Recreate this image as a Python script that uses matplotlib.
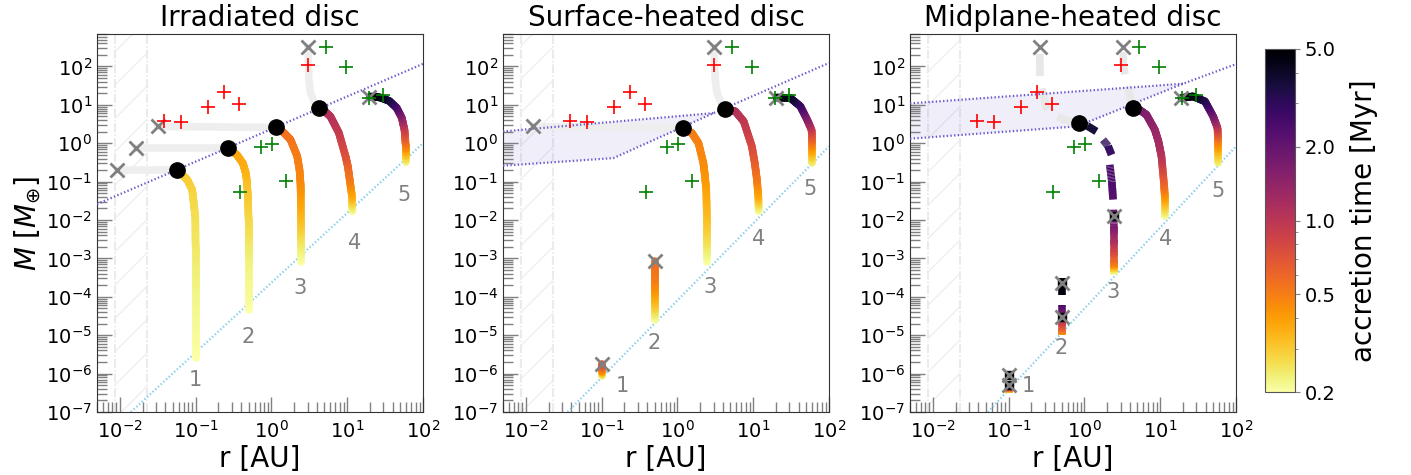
import numpy as np
import matplotlib
matplotlib.use('Agg')
import matplotlib.pyplot as plt
from matplotlib.collections import LineCollection
from matplotlib.colors import LogNorm

plt.rcParams['lines.scale_dashes'] = False

titles = ['Irradiated disc', 'Surface-heated disc', 'Midplane-heated disc']
nan = np.nan

# observed planets, the same in every panel
red_r = [0.038, 0.065, 0.145, 0.236, 0.372, 3.03]
red_m = [3.7, 3.5, 8.8, 21, 10.7, 111]
green_r = [5.2, 9.7, 19.3, 29.9, 0.72, 1.03, 0.38, 1.54]
green_m = [320, 94, 15, 17.6, 0.8, 0.95, 0.054, 0.107]

# ---- irradiated disc: tracks (r [AU], M [Mearth], time [Myr])
irr_track_r = [[0.1, 0.1, 0.1, 0.099, 0.094, 0.09, 0.078, 0.067, 0.056],
               [0.5, 0.5, 0.5, 0.49, 0.475, 0.46, 0.42, 0.35, 0.265],
               [2.45, 2.45, 2.45, 2.44, 2.42, 2.35, 2.19, 1.79, 1.45, 1.16],
               [11.7, 11.6, 10.8, 10.2, 9.5, 7.76, 6.0, 5.0, 4.25],
               [59, 59, 57, 52.5, 45, 36, 27.5, 20]]
irr_track_m = [[2.5e-6, 1e-4, 2e-3, 0.012, 0.03, 0.062, 0.11, 0.15, 0.2],
               [4.6e-5, 1e-3, 0.01, 0.04, 0.1, 0.166, 0.3, 0.5, 0.75],
               [8.3e-4, 3e-3, 0.01, 0.05, 0.091, 0.2, 0.46, 1.23, 1.9, 2.58],
               [0.0167, 0.04, 0.11, 0.25, 0.46, 1.87, 5.0, 6.9, 8.05],
               [0.33, 0.91, 2.24, 4.6, 8.3, 12.6, 15.5, 16.5]]
irr_track_t = [[0.2, 0.22, 0.245, 0.26, 0.27, 0.28, 0.29, 0.295, 0.3],
               [0.2, 0.23, 0.27, 0.3, 0.32, 0.34, 0.36, 0.37, 0.38],
               [0.2, 0.25, 0.32, 0.41, 0.45, 0.48, 0.5, 0.53, 0.55, 0.56],
               [0.2, 0.35, 0.5, 0.58, 0.7, 0.9, 1.05, 1.08, 1.1],
               [0.22, 0.5, 0.85, 1.35, 2.2, 3.2, 4.2, 5.0]]
irr_grey_r = [[0.056, 0.0091], [0.265, 0.0164], [1.16, 0.0316],
              [4.25, 3.63, 3.25, 3.12, 3.03]]
irr_grey_m = [[0.2, 0.2], [0.75, 0.75], [2.58, 2.74],
              [8.05, 12.3, 22, 45, 320]]
irr_dot_r = [0.056, 0.265, 1.16, 4.25]
irr_dot_m = [0.2, 0.75, 2.58, 8.05]
irr_end_r = [0.0091, 0.0164, 0.0316, 3.03, 19.5]
irr_end_m = [0.2, 0.75, 2.74, 320, 16.0]
irr_lab_r = [0.1, 0.5, 2.42, 12.5, 57]
irr_lab_m = [6.9e-7, 9.1e-6, 1.74e-4, 2.5e-3, 0.045]
irr_iso_r = [5e-3, 100]
irr_iso_m = [0.026, 117]
irr_iso_up_r = []
irr_iso_up_m = []
irr_start_r = [0.014, 100]
irr_start_m = [1e-7, 1.0]

# ---- surface-heated disc
surf_track_r = [[0.1, 0.1, 0.1],
                [0.5, 0.5, 0.5, 0.5, 0.5],
                [2.45, 2.45, 2.45, 2.4, 2.3, 2.2, 1.9, 1.55, 1.2],
                [11.8, 11.7, 11.2, 10.5, 9.6, 7.5, 5.8, 4.28],
                [60, 60, 59, 51.5, 42, 31, 20.2]]
surf_track_m = [[8.5e-7, 1.2e-6, 1.8e-6],
                [2.5e-5, 6e-5, 1.5e-4, 3e-4, 8.5e-4],
                [8.3e-4, 3e-3, 0.012, 0.062, 0.15, 0.305, 1.0, 1.85, 2.49],
                [0.0168, 0.04, 0.112, 0.3, 0.83, 3.7, 6.8, 7.9],
                [0.3, 1.0, 2.2, 4.1, 9.1, 15, 15.5]]
surf_track_t = [[0.2, 0.45, 0.75],
                [0.2, 0.3, 0.42, 0.5, 0.56],
                [0.2, 0.26, 0.32, 0.38, 0.42, 0.45, 0.48, 0.5, 0.52],
                [0.2, 0.35, 0.5, 0.62, 0.75, 0.95, 1.05, 1.1],
                [0.22, 0.5, 0.85, 1.4, 2.5, 3.8, 5.0]]
surf_grey_r = [[1.2, 0.0125], [4.28, 3.67, 3.3, 3.16, 3.0]]
surf_grey_m = [[2.49, 2.74], [7.9, 12.3, 22, 45, 320]]
surf_dot_r = [1.2, 4.28]
surf_dot_m = [2.49, 7.9]
surf_end_r = [0.1, 0.5, 0.0125, 3.0, 20.2]
surf_end_m = [1.8e-6, 8.5e-4, 2.74, 320, 15.5]
surf_lab_r = [0.186, 0.5, 2.7, 11.8, 57]
surf_lab_m = [4.7e-7, 6.3e-6, 1.76e-4, 3.2e-3, 0.065]
surf_iso_r = [5e-3, 0.143, 3.0, 100]
surf_iso_m = [0.26, 0.41, 6.1, 123]
surf_iso_up_r = [5e-3, 3.0]
surf_iso_up_m = [2.03, 6.1]
surf_start_r = [0.0356, 100]
surf_start_m = [1e-7, 0.83]

# ---- midplane-heated disc (nan = gap in a dashed track)
mid_track_r = [[0.1, 0.1, 0.1, 0.1, nan, 0.1, 0.1],
               [0.5, 0.5, 0.5, 0.5, 0.5, nan, 0.5, 0.5],
               [2.45, 2.45, 2.45, 2.45, 2.45, 2.42, nan, 2.39, 2.3, 2.16, nan,
                2.28, 2.05, 1.76, nan, 1.44, 1.1, 0.87],
               [11.5, 11.5, 11.3, 10.4, 9.5, 8.5, 6.6, 5.4, 4.4],
               [58, 58, 57, 50, 39, 27, 19]]
mid_track_m = [[3.1e-7, 3.6e-7, 4.2e-7, 6.3e-7, nan, 6.9e-7, 1.15e-6],
               [1.02e-5, 1.5e-5, 2.2e-5, 3.5e-5, 6.2e-5, nan, 1.12e-4, 3.1e-4],
               [3.8e-4, 6.3e-4, 1.4e-3, 3.1e-3, 6.8e-3, 1.86e-2, nan, 0.034, 0.1, 0.275, nan,
                0.5, 0.85, 1.23, nan, 2.03, 2.8, 3.36],
               [0.0124, 0.04, 0.075, 0.45, 1.1, 2.24, 5.5, 7.3, 8.3],
               [0.305, 1.23, 2.5, 5.0, 12.3, 16.6, 15.1]]
mid_track_t = [[0.25, 0.8, 3.0, 5.0, nan, 5.0, 5.0],
               [0.45, 0.7, 1.0, 1.7, 2.5, nan, 4.5, 5.0],
               [0.2, 0.5, 0.8, 1.2, 1.7, 2.0, nan, 2.2, 2.4, 2.6, nan,
                2.8, 3.0, 3.2, nan, 3.6, 3.8, 4.0],
               [0.2, 0.4, 0.55, 1.0, 1.2, 1.3, 1.55, 1.65, 1.7],
               [0.22, 0.5, 0.9, 1.6, 3.0, 4.2, 5.0]]
mid_grey_r = [[0.84, 0.64, 0.37, 0.316, 0.284, 0.26, 0.257], [4.4, 3.59, 3.24, 3.24]]
mid_grey_m = [[3.4, 3.7, 5.5, 8.3, 20, 45, 320], [8.3, 37, 123, 320]]
mid_dot_r = [0.84, 4.4]
mid_dot_m = [3.4, 8.3]
mid_end_r = [0.1, 0.1, 0.5, 0.5, 2.45, 0.257, 3.24, 19]
mid_end_m = [5.1e-7, 9.3e-7, 2.9e-5, 2.3e-4, 0.0124, 320, 320, 15.1]
mid_dark_r = [0.1, 0.1, 0.5, 0.5, 2.45]
mid_dark_m = [5.1e-7, 9.3e-7, 2.9e-5, 2.3e-4, 0.0124]
mid_lab_r = [0.184, 0.5, 2.39, 11.9, 58]
mid_lab_m = [4.7e-7, 4.7e-6, 1.3e-4, 3.2e-3, 0.056]
mid_iso_r = [5e-3, 0.8, 20, 100]
mid_iso_m = [1.31, 2.75, 35.5, 115]
mid_iso_up_r = [5e-3, 20]
mid_iso_up_m = [10.9, 35.5]
mid_start_r = [0.0532, 100]
mid_start_m = [1e-7, 0.83]

inner_edge = [0.0087, 0.023]

cmap = plt.get_cmap('inferno_r')
norm = LogNorm(0.2, 5.0)


def grad_track(ax, r, m, t, cap='round'):
    """track coloured by time; nan splits it into pieces"""
    r, m, t = np.log10(r), np.log10(m), np.log10(t)
    k = np.linspace(0, 1, 13)
    # with butt ends each little piece runs a bit into the next, so no seams show
    k_end = np.minimum(k[1:] + (0.6 * (k[1] - k[0]) if cap == 'butt' else 0), 1)
    segs, cols = [], []
    for i in range(len(r) - 1):
        if np.isnan(r[i]) or np.isnan(r[i + 1]):
            continue
        last = i + 2 >= len(r) or np.isnan(r[i + 2])
        for j in range(len(k) - 1):
            k1 = k[j + 1] if last else k_end[j]
            x0, x1 = r[i] + (r[i + 1] - r[i]) * k[j], r[i] + (r[i + 1] - r[i]) * k1
            y0, y1 = m[i] + (m[i + 1] - m[i]) * k[j], m[i] + (m[i + 1] - m[i]) * k1
            segs.append([(10 ** x0, 10 ** y0), (10 ** x1, 10 ** y1)])
            cols.append(10 ** (t[i] + (t[i + 1] - t[i]) * 0.5 * (k[j] + k[j + 1])))
    lc = LineCollection(segs, cmap=cmap, norm=norm, linewidths=5.5,
                        capstyle=cap, zorder=4)
    lc.set_array(np.array(cols))
    ax.add_collection(lc)


panels = [
    (irr_track_r, irr_track_m, irr_track_t, irr_grey_r, irr_grey_m, irr_dot_r, irr_dot_m,
     irr_end_r, irr_end_m, irr_lab_r, irr_lab_m, irr_iso_r, irr_iso_m,
     irr_iso_up_r, irr_iso_up_m, irr_start_r, irr_start_m),
    (surf_track_r, surf_track_m, surf_track_t, surf_grey_r, surf_grey_m, surf_dot_r, surf_dot_m,
     surf_end_r, surf_end_m, surf_lab_r, surf_lab_m, surf_iso_r, surf_iso_m,
     surf_iso_up_r, surf_iso_up_m, surf_start_r, surf_start_m),
    (mid_track_r, mid_track_m, mid_track_t, mid_grey_r, mid_grey_m, mid_dot_r, mid_dot_m,
     mid_end_r, mid_end_m, mid_lab_r, mid_lab_m, mid_iso_r, mid_iso_m,
     mid_iso_up_r, mid_iso_up_m, mid_start_r, mid_start_m),
]

fig = plt.figure(figsize=(14.11, 4.75), dpi=100)
lefts = [97 / 1411, 503 / 1411, 910 / 1411]

for p, (tr, tm, tt, gr, gm, dr, dm, er, em, lr, lm, ir, im, ur, um, sr, sm) in enumerate(panels):
    ax = fig.add_axes([lefts[p], 63 / 475, 326 / 1411, 378 / 475])
    ax.set_xscale('log')
    ax.set_yscale('log')
    ax.set_xlim(5e-3, 100)
    ax.set_ylim(1e-7, 700)

    # inner disc edge
    ax.fill_betweenx([1e-7, 700], inner_edge[0], inner_edge[1], facecolor='none',
                     edgecolor='#efefef', hatch='/', linewidth=0, zorder=0)
    for x in inner_edge:
        ax.axvline(x, color='#ebebeb', lw=1.5, ls='-.', zorder=0.5)

    # pebble isolation mass
    ax.plot(ir, im, ls=':', color='#6a5acd', lw=1.6, zorder=3)
    if ur:
        ax.plot(ur, um, ls=':', color='#6a5acd', lw=1.6, zorder=3)
        j = ir.index(ur[-1])
        poly_r = list(ur) + list(ir[:j + 1])[::-1]
        poly_m = list(um) + list(im[:j + 1])[::-1]
        ax.fill(poly_r, poly_m, color='#6a5acd', alpha=0.1, lw=0, zorder=0.8)

    # starting masses
    ax.plot(sr, sm, ls=':', color='#87ceeb', lw=1.6, zorder=3)

    # after isolation
    for i in range(len(gr)):
        if p == 2:
            ax.plot(gr[i], gm[i], color='#e8e8e8', lw=5.5, ls=(0, (16, 9)),
                    solid_capstyle='butt', zorder=2)
        else:
            ax.plot(gr[i], gm[i], color='#eeeeee', lw=5.5, solid_capstyle='round', zorder=2)

    for i in range(len(tr)):
        grad_track(ax, tr[i], tm[i], tt[i], cap='butt' if (p == 2 and i < 3) else 'round')

    if p == 2:
        ax.plot(mid_dark_r, mid_dark_m, 's', color='black', ms=6, zorder=5)
    ax.plot(er, em, 'x', color='grey', ms=10, mew=2, zorder=6)
    ax.plot(dr, dm, 'o', color='black', ms=11, zorder=6)

    ax.plot(red_r, red_m, '+', color='red', ms=10, mew=1.2, zorder=7)
    ax.plot(green_r, green_m, '+', color='green', ms=10, mew=1.2, zorder=7)

    for i in range(len(lr)):
        ax.text(lr[i], lm[i], str(i + 1), color='grey', fontsize=15,
                ha='center', va='center', zorder=7)

    ax.set_title(titles[p], fontsize=20, pad=6)
    ax.set_xlabel('r [AU]', fontsize=20, labelpad=2)
    if p == 0:
        ax.set_ylabel(r'$M$ [$M_{\oplus}$]', fontsize=20, labelpad=2)
    ax.xaxis.set_major_locator(matplotlib.ticker.LogLocator(10, numticks=20))
    ax.xaxis.set_minor_locator(matplotlib.ticker.LogLocator(10, subs=np.arange(2, 10), numticks=20))
    ax.yaxis.set_major_locator(matplotlib.ticker.LogLocator(10, numticks=20))
    ax.yaxis.set_minor_locator(matplotlib.ticker.LogLocator(10, subs=np.arange(2, 10), numticks=20))
    ax.yaxis.set_minor_formatter(matplotlib.ticker.NullFormatter())
    ax.xaxis.set_minor_formatter(matplotlib.ticker.NullFormatter())
    ax.tick_params(which='both', direction='in', color='grey', labelsize=14)
    ax.tick_params(which='major', length=11, width=1)
    ax.tick_params(which='minor', length=7, width=1)
    ax.tick_params(axis='x', which='both', pad=6)
    for s in ax.spines.values():
        s.set_color('#333333')

cax = fig.add_axes([1265 / 1411, 83 / 475, 30 / 1411, 343 / 475])
sm_ = matplotlib.cm.ScalarMappable(norm=norm, cmap=cmap)
cb = fig.colorbar(sm_, cax=cax)
cb.set_ticks([0.2, 0.5, 1.0, 2.0, 5.0])
cb.set_ticklabels(['0.2', '0.5', '1.0', '2.0', '5.0'])
cb.ax.yaxis.set_minor_locator(matplotlib.ticker.LogLocator(10, subs=np.arange(2, 10), numticks=20))
cb.ax.yaxis.set_minor_formatter(matplotlib.ticker.NullFormatter())
cb.ax.tick_params(which='both', labelsize=14, color='grey')
cb.outline.set_edgecolor('#555555')
cb.set_label('accretion time [Myr]', fontsize=20, labelpad=10)

fig.savefig('out.png', dpi=100)
